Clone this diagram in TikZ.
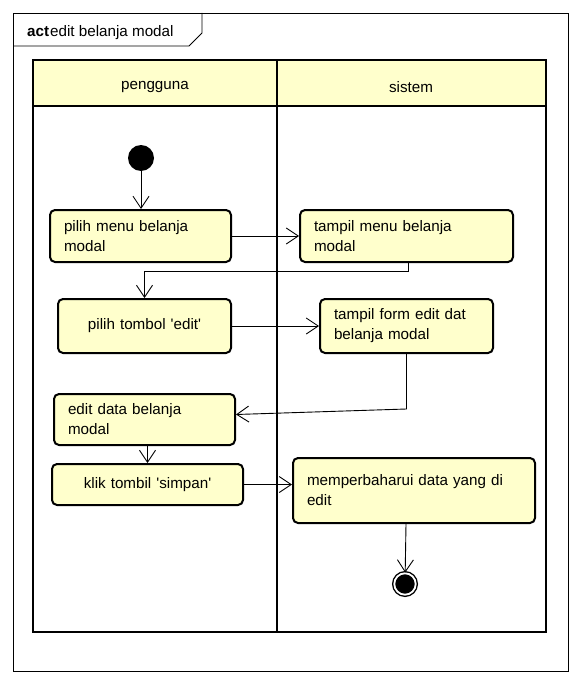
\documentclass[tikz,border=0pt]{standalone}
\usepackage{fontspec}
\setmainfont{Liberation Sans}
\usetikzlibrary{arrows.meta}
\definecolor{actfill}{RGB}{255,255,204}
\tikzset{
  txt/.style={font=\fontsize{15.2}{20}\selectfont},
  act/.style={rectangle, draw, line width=2pt, rounded corners=5pt, fill=actfill, text width=#1, inner xsep=14pt, inner ysep=0pt, align=left, txt},
  flow/.style={-{Straight Barb[length=12pt,width=16pt]}, line width=0.9pt},
  lane/.style={line width=2.6pt},
  startdot/.style={circle, fill=black, minimum size=26pt, inner sep=0pt},
  enddot/.style={circle, draw, fill=black, line width=1.4pt, double=white, double distance=1.8pt, minimum size=21.4pt, inner sep=0pt}
}
\begin{document}
\begin{tikzpicture}[x=1pt,y=-1pt]
\useasboundingbox (0,0) rectangle (581,685);

\draw[line width=0.9pt] (13,13) rectangle (568,671);
\draw[line width=0.9pt] (13,46) -- (189,46) -- (202,33) -- (202,13);
\node[txt, anchor=west, inner sep=0pt] (title) at (27,33) {\textbf{act}\kern1pt edit belanja modal};

\draw[lane, fill=actfill] (33,60) rectangle (546,106);
\draw[lane] (33,60) rectangle (546,632);
\draw[lane] (277,60) -- (277,632);
\node[txt] (pengguna) at (155,87) {pengguna};
\node[txt] (sistem) at (411,87) {sistem};

\node[startdot] (start) at (141,158) {};
\node[act=153pt, minimum height=52pt] (pilihmenu) at (140.5,236) {pilih menu belanja\\modal};
\node[act=185pt, minimum height=52pt] (tampilmenu) at (406.5,236) {tampil menu belanja\\modal};
\node[act=145pt, minimum height=54pt, align=center] (pilihedit) at (144.5,326) {pilih tombol \textquotesingle edit\textquotesingle};
\node[act=145pt, minimum height=54pt] (tampilform) at (406.5,326) {tampil form edit dat\\belanja modal};
\node[act=153pt, minimum height=51pt] (editdata) at (144.5,419.5) {edit data belanja\\modal};
\node[act=163pt, minimum height=41pt, align=center] (simpan) at (147.5,484.5) {klik tombil \textquotesingle simpan\textquotesingle};
\node[act=214pt, minimum height=65pt] (perbarui) at (414,490.5) {memperbaharui data yang di\\edit};
\node[enddot] (end) at (405,584) {};

\draw[flow] (start) -- (start |- pilihmenu.north);
\draw[flow] (pilihmenu) -- (tampilmenu);
\draw[flow] ([xshift=2pt]tampilmenu.south) |- ([yshift=-8pt]tampilmenu.south -| pilihedit.north) -- (pilihedit.north);
\draw[flow] (pilihedit) -- (tampilform);
\draw[flow] (tampilform.south) -- ++(0,55) -- ([yshift=5pt]editdata.east);
\draw[flow] (simpan.north |- editdata.south) -- (simpan.north);
\draw[flow] (simpan.east) -- (perbarui.west |- simpan.east);
\draw[flow] ([xshift=-8pt]perbarui.south) -- (end);
\end{tikzpicture}
\end{document}
